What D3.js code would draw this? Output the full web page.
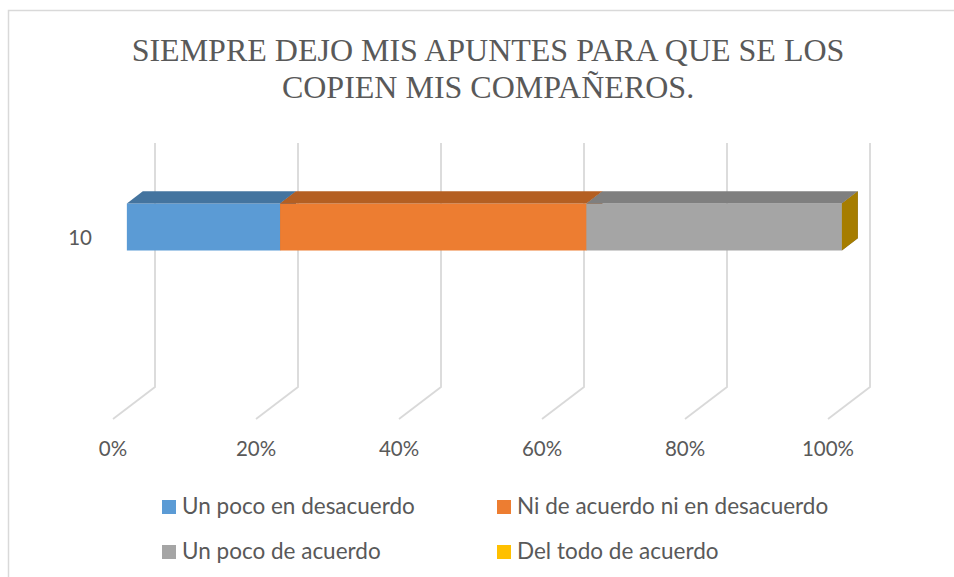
<!DOCTYPE html>
<html>
<head>
<meta charset="utf-8">
<script src="https://cdn.jsdelivr.net/npm/d3@7"></script>
<style>
  body { margin: 0; background: #fff; }
  text { fill: #595959; }
</style>
</head>
<body>
<div id="chart"></div>
<script>
// data
var categories = ["10"];
var seriesNames = ["Un poco en desacuerdo", "Ni de acuerdo ni en desacuerdo",
                   "Un poco de acuerdo", "Del todo de acuerdo"];
var seriesValues = [3, 6, 5, 0];
var tickValues = [0, 0.2, 0.4, 0.6, 0.8, 1];
var titleLines = ["SIEMPRE DEJO MIS APUNTES PARA QUE SE LOS", "COPIEN MIS COMPAÑEROS."];

var frontColors = ["#5B9BD5", "#ED7D31", "#A5A5A5", "#FFC000"];
var topColors   = ["#44749F", "#B45F22", "#7F7F7F", "#B38A00"];
var sideColors  = ["#3A6690", "#A2561E", "#727272", "#A67D00"];

var width = 954, height = 577;

var svg = d3.select("#chart")
  .append("svg")
    .attr("width", width)
    .attr("height", height);

// chart border
svg.append("rect")
    .attr("x", 8.5).attr("y", 10.5)
    .attr("width", 1000).attr("height", 1000)
    .attr("fill", "none")
    .attr("stroke", "#D9D9D9")
    .attr("stroke-width", 1.5);

// title
svg.append("g").selectAll("text")
    .data(titleLines)
  .enter().append("text")
    .attr("x", 488)
    .attr("y", function(d, i) { return 61 + i * 37; })
    .attr("text-anchor", "middle")
    .style("font-family", "'Liberation Serif', 'Times New Roman', serif")
    .style("font-size", "32px")
    .text(function(d) { return d; });

// back wall scales, depth offset goes towards the front plane
var x = d3.scaleLinear().domain([0, 1]).range([155, 870]);
var wallTop = 143, wallBottom = 387;
var depth = {dx: -42, dy: 32};

var y = d3.scaleBand()
    .domain(categories)
    .range([143, 268])
    .padding(0.4535);

// bar occupies part of the depth (fraction from back wall)
var barBack = 0.29, barFront = 0.67;

// gridlines: wall + floor
var grid = svg.append("g");
tickValues.forEach(function(t) {
  grid.append("path")
    .attr("d", d3.line()([[x(t), wallTop], [x(t), wallBottom],
                         [x(t) + depth.dx, wallBottom + depth.dy]]))
    .attr("fill", "none")
    .attr("stroke", "#D9D9D9")
    .attr("stroke-width", 1.8);
});

// tick labels on front plane
svg.append("g").selectAll("text")
    .data(tickValues)
  .enter().append("text")
    .attr("x", function(d) { return x(d) + depth.dx; })
    .attr("y", 456)
    .attr("text-anchor", "middle")
    .style("font-family", "Lato, 'Open Sans', sans-serif")
    .style("font-size", "20.5px")
    .text(d3.format(".0%"));

// category labels
svg.append("g").selectAll("text")
    .data(categories)
  .enter().append("text")
    .attr("x", 92)
    .attr("y", function(d) { return y(d) + y.bandwidth() / 2 + depth.dy + 7; })
    .attr("text-anchor", "end")
    .style("font-family", "Lato, 'Open Sans', sans-serif")
    .style("font-size", "20.5px")
    .text(function(d) { return d; });

// stacked 100% data
var rows = categories.map(function(c) {
  var r = {cat: c};
  seriesNames.forEach(function(s, i) { r[s] = seriesValues[i]; });
  return r;
});
var stack = d3.stack().keys(seriesNames).offset(d3.stackOffsetExpand);
var layers = stack(rows);

function pt(v, yy, t) {
  return [x(v) + depth.dx * t, yy + depth.dy * t];
}

var bars = svg.append("g");
layers.forEach(function(layer, i) {
  layer.forEach(function(d) {
    var y0 = y(d.data.cat), y1 = y0 + y.bandwidth();
    var a = d[0], b = d[1];
    // front face
    bars.append("path")
      .attr("d", d3.line()([pt(a, y0, barFront), pt(b, y0, barFront),
                           pt(b, y1, barFront), pt(a, y1, barFront)]) + "Z")
      .attr("fill", frontColors[i]);
    // top face
    bars.append("path")
      .attr("d", d3.line()([pt(a, y0, barFront), pt(b, y0, barFront),
                           pt(b, y0, barBack), pt(a, y0, barBack)]) + "Z")
      .attr("fill", topColors[i]);
    // right side face
    bars.append("path")
      .attr("d", d3.line()([pt(b, y0, barFront), pt(b, y0, barBack),
                           pt(b, y1, barBack), pt(b, y1, barFront)]) + "Z")
      .attr("fill", sideColors[i]);
  });
});

// legend
var legend = svg.append("g").selectAll("g")
    .data(seriesNames)
  .enter().append("g")
    .attr("transform", function(d, i) {
      return "translate(" + (i % 2 ? 497 : 162) + "," + (i < 2 ? 507 : 552) + ")";
    });
legend.append("rect")
    .attr("x", 0).attr("y", -7)
    .attr("width", 14).attr("height", 14)
    .attr("fill", function(d, i) { return frontColors[i]; });
legend.append("text")
    .attr("x", 20)
    .attr("y", 7)
    .style("font-family", "Lato, 'Open Sans', sans-serif")
    .style("font-size", "22.5px")
    .text(function(d) { return d; });
</script>
</body>
</html>
